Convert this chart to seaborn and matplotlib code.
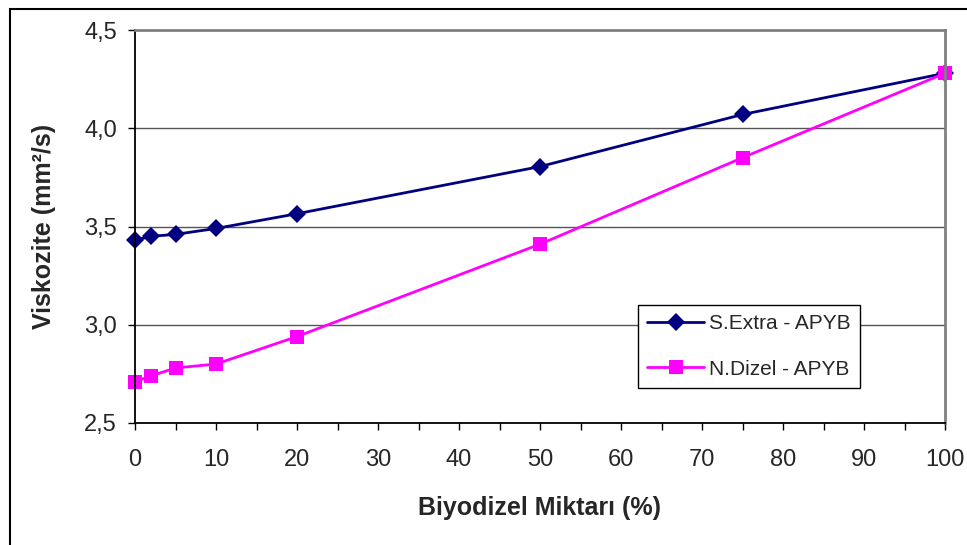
import matplotlib
matplotlib.use("Agg")
import matplotlib.pyplot as plt
from matplotlib.patches import Rectangle
import seaborn as sns
import pandas as pd

# Biodiesel share (%) and measured viscosity (mm2/s)
biyodizel = [0, 2, 5, 10, 20, 50, 75, 100]
s_extra = [3.43, 3.45, 3.46, 3.49, 3.565, 3.805, 4.07, 4.28]
n_dizel = [2.71, 2.74, 2.78, 2.80, 2.94, 3.41, 3.85, 4.28]

series_names = ["S.Extra - APYB", "N.Dizel - APYB"]
y_ticks = [2.5, 3.0, 3.5, 4.0, 4.5]
y_tick_labels = ["2,5", "3,0", "3,5", "4,0", "4,5"]
x_ticks = [0, 10, 20, 30, 40, 50, 60, 70, 80, 90, 100]
x_tick_labels = [str(v) for v in x_ticks]

sns.set_theme(style="white")
plt.rcParams["font.family"] = ["Liberation Sans", "DejaVu Sans"]

df = pd.DataFrame({
    "x": biyodizel * 2,
    "y": s_extra + n_dizel,
    "seri": [series_names[0]] * len(s_extra) + [series_names[1]] * len(n_dizel),
})

marker_sizes = [9, 10.5]

fig = plt.figure(figsize=(9.67, 5.45), dpi=100)
ax = fig.add_axes([135 / 967, (545 - 423) / 545, 810 / 967, 393 / 545])

sns.lineplot(data=df, x="x", y="y", hue="seri", style="seri",
             palette={series_names[0]: "#000080", series_names[1]: "#FF00FF"},
             markers={series_names[0]: "D", series_names[1]: "s"},
             dashes=False, linewidth=2, markeredgewidth=0, ax=ax)
for line, ms in zip(ax.lines, marker_sizes):
    line.set_markersize(ms)
    line.set_clip_on(False)

ax.set_xlim(0, 100)
ax.set_ylim(2.5, 4.5)
ax.set_xticks(x_ticks)
ax.set_xticklabels(x_tick_labels, fontsize=17)
ax.set_xticks(list(range(5, 100, 10)), minor=True)
ax.set_yticks(y_ticks)
ax.set_yticklabels(y_tick_labels, fontsize=17)
ax.tick_params(axis="x", which="both", direction="out", length=5, width=1,
               color="black", pad=14, bottom=True)
ax.tick_params(axis="y", direction="out", length=5, width=1, color="black",
               pad=8, left=True)

ax.grid(False)
for y in y_ticks[1:-1]:
    ax.axhline(y, color="#555555", linewidth=1, zorder=0.5)

for side in ["left", "bottom"]:
    ax.spines[side].set_color("black")
    ax.spines[side].set_linewidth(1.3)
for side in ["top", "right"]:
    ax.spines[side].set_color("#808080")
    ax.spines[side].set_linewidth(2)

ax.set_xlabel("Biyodizel Miktarı (%)", fontsize=18, fontweight="bold", labelpad=18)
ax.set_ylabel("Viskozite (mm²/s)", fontsize=18, fontweight="bold", labelpad=20)

handles, labels = ax.get_legend_handles_labels()
for h, ms in zip(handles, marker_sizes):
    h.set_markersize(ms)
leg = ax.legend(handles, labels, loc="upper left", bbox_to_anchor=(0.621, 0.300),
                borderaxespad=0, fontsize=15, frameon=True, fancybox=False,
                handlelength=2.7, handletextpad=0.25, borderpad=0.45,
                labelspacing=1.25)
leg.get_frame().set_edgecolor("black")
leg.get_frame().set_linewidth(1)
leg.get_frame().set_alpha(1)

fig.patches.append(Rectangle((10 / 967, -0.2), 1.5, 1.2 - 9 / 545,
                             transform=fig.transFigure, fill=False,
                             edgecolor="black", linewidth=1.5))

fig.savefig("out.png", dpi=100)
